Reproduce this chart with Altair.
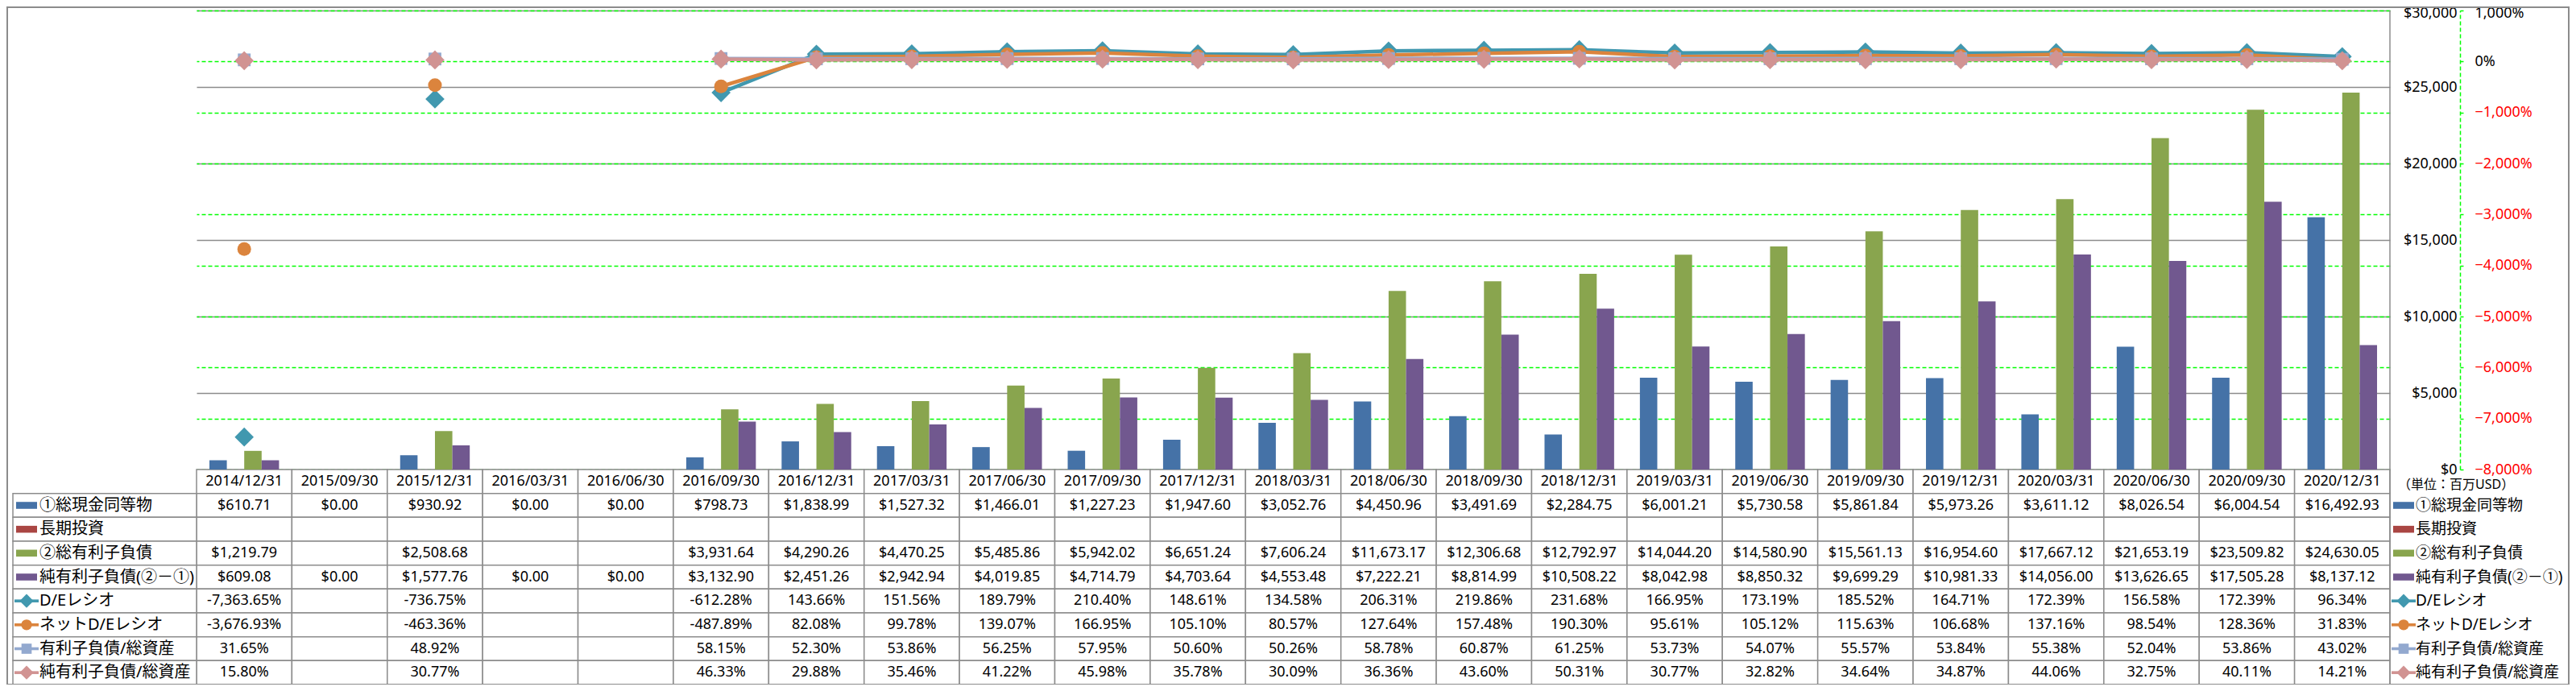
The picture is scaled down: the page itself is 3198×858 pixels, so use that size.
import altair as alt
import pandas as pd

# ---------------- data ----------------
dates = ["2014/12/31", "2015/09/30", "2015/12/31", "2016/03/31", "2016/06/30",
         "2016/09/30", "2016/12/31", "2017/03/31", "2017/06/30", "2017/09/30",
         "2017/12/31", "2018/03/31", "2018/06/30", "2018/09/30", "2018/12/31",
         "2019/03/31", "2019/06/30", "2019/09/30", "2019/12/31", "2020/03/31",
         "2020/06/30", "2020/09/30", "2020/12/31"]

cash = [610.71, 0.00, 930.92, 0.00, 0.00, 798.73, 1838.99, 1527.32, 1466.01, 1227.23,
        1947.60, 3052.76, 4450.96, 3491.69, 2284.75, 6001.21, 5730.58, 5861.84,
        5973.26, 3611.12, 8026.54, 6004.54, 16492.93]
long_inv = [None] * 23
debt = [1219.79, None, 2508.68, None, None, 3931.64, 4290.26, 4470.25, 5485.86, 5942.02,
        6651.24, 7606.24, 11673.17, 12306.68, 12792.97, 14044.20, 14580.90, 15561.13,
        16954.60, 17667.12, 21653.19, 23509.82, 24630.05]
net_debt = [609.08, 0.00, 1577.76, 0.00, 0.00, 3132.90, 2451.26, 2942.94, 4019.85, 4714.79,
            4703.64, 4553.48, 7222.21, 8814.99, 10508.22, 8042.98, 8850.32, 9699.29,
            10981.33, 14056.00, 13626.65, 17505.28, 8137.12]
de_ratio = [-7363.65, None, -736.75, None, None, -612.28, 143.66, 151.56, 189.79, 210.40,
            148.61, 134.58, 206.31, 219.86, 231.68, 166.95, 173.19, 185.52, 164.71,
            172.39, 156.58, 172.39, 96.34]
net_de_ratio = [-3676.93, None, -463.36, None, None, -487.89, 82.08, 99.78, 139.07, 166.95,
                105.10, 80.57, 127.64, 157.48, 190.30, 95.61, 105.12, 115.63, 106.68,
                137.16, 98.54, 128.36, 31.83]
debt_assets = [31.65, None, 48.92, None, None, 58.15, 52.30, 53.86, 56.25, 57.95, 50.60,
               50.26, 58.78, 60.87, 61.25, 53.73, 54.07, 55.57, 53.84, 55.38, 52.04,
               53.86, 43.02]
net_debt_assets = [15.80, None, 30.77, None, None, 46.33, 29.88, 35.46, 41.22, 45.98,
                   35.78, 30.09, 36.36, 43.60, 50.31, 30.77, 32.82, 34.64, 34.87, 44.06,
                   32.75, 40.11, 14.21]

bar_names = ["①総現金同等物", "長期投資", "②総有利子負債", "純有利子負債(②－①)"]
bar_values = [cash, long_inv, debt, net_debt]
bar_colors = ["#4572A7", "#AA4643", "#89A54E", "#71588F"]

line_names = ["D/Eレシオ", "ネットD/Eレシオ", "有利子負債/総資産", "純有利子負債/総資産"]
line_values = [de_ratio, net_de_ratio, debt_assets, net_debt_assets]
line_colors = ["#4198AF", "#DB843D", "#93A9CF", "#D19392"]
line_shapes = ["diamond", "circle", "square", "diamond"]
line_sizes = [560, 290, 250, 560]
key_sizes = [300, 180, 160, 300]

money_ticks = [0, 5000, 10000, 15000, 20000, 25000, 30000]
pct_ticks = [-8000, -7000, -6000, -5000, -4000, -3000, -2000, -1000, 0, 1000]
unit_label = "（単位：百万USD）"

# ---------------- layout constants ----------------
W = 2723
H = 837
PLOT_H = 570
FONT = "Noto Sans, Noto Sans CJK JP"
GRID = "#8C8C8C"
GREEN = "#00FF00"

all_names = bar_names + line_names
all_colors = bar_colors + line_colors
row_keys = ["header"] + all_names

xs = alt.X("date:N", scale=alt.Scale(domain=dates, paddingInner=0, paddingOuter=0), axis=None)
xc = alt.X("date:N", scale=alt.Scale(domain=dates, paddingInner=0, paddingOuter=0),
           axis=None, bandPosition=0.5)
yrow = alt.Y("row:N", scale=alt.Scale(domain=row_keys, range=[PLOT_H, H],
                                      paddingInner=0, paddingOuter=0), axis=None)


def ypct(axis=None):
    return alt.Y("value:Q", scale=alt.Scale(domain=[-8000, 1000], range=[PLOT_H, 0],
                                            nice=False, zero=False), axis=axis)


# ---------------- bars ----------------
bar_rows = []
for name, vals in zip(bar_names, bar_values):
    for d, v in zip(dates, vals):
        if v is not None:
            bar_rows.append({"date": d, "series": name, "value": v})
bar_df = pd.DataFrame(bar_rows)

money_axis = alt.Axis(orient="right", values=money_ticks,
                      labelExpr="'$' + format(datum.value, ',')",
                      grid=True, gridColor=GRID, gridWidth=1.5,
                      domain=False, ticks=False, tickSize=0,
                      labelPadding=83, labelAlign="right",
                      labelOffset={"condition": {"test": "datum.value == 30000", "value": 3},
                                   "value": 0},
                      labelFont=FONT, labelFontSize=18, labelColor="#000000", title=None)

bars = alt.Chart(bar_df).mark_bar().encode(
    x=xs,
    xOffset=alt.XOffset("series:N", scale=alt.Scale(domain=bar_names, paddingInner=0,
                                                    paddingOuter=0.74)),
    y=alt.Y("value:Q", scale=alt.Scale(domain=[0, 30000], range=[PLOT_H, 0], nice=False),
            axis=money_axis),
    color=alt.Color("series:N", scale=alt.Scale(domain=all_names, range=all_colors), legend=None),
)

pct_axis = alt.Axis(orient="right", offset=87, values=pct_ticks,
                    labelExpr="format(datum.value, ',') + '%'",
                    labelColor={"condition": {"test": "datum.value < 0", "value": "#FF0000"},
                                "value": "#000000"},
                    labelOffset={"condition": {"test": "datum.value == 1000", "value": 3},
                                 "value": 0},
                    grid=True, gridColor=GREEN, gridDash=[5, 3], gridWidth=1.5,
                    domain=True, domainColor=GREEN, domainDash=[5, 3], domainWidth=1.5,
                    ticks=True, tickColor=GREEN, tickSize=4, tickWidth=1.5,
                    labelPadding=14, labelAlign="left",
                    labelFont=FONT, labelFontSize=18, title=None)

# ---------------- lines ----------------
line_layers = []
for i, (name, vals) in enumerate(zip(line_names, line_values)):
    rows = []
    seg = 0
    for d, v in zip(dates, vals):
        if v is None:
            seg += 1
            continue
        rows.append({"date": d, "series": name, "value": v, "seg": seg})
    df = pd.DataFrame(rows)
    ln = alt.Chart(df).mark_line(color=line_colors[i], strokeWidth=4.5).encode(
        x=xc, y=ypct(pct_axis if i == 0 else None), detail="seg:N")
    pt = alt.Chart(df).mark_point(shape=line_shapes[i], size=line_sizes[i], filled=True,
                                  opacity=1, color=line_colors[i]).encode(x=xc, y=ypct())
    line_layers += [ln, pt]

# ---------------- data table ----------------
def fmt_money(v):
    return "" if v is None else "$" + f"{v:,.2f}"


def fmt_pct(v):
    return "" if v is None else f"{v:,.2f}%"


cells = []
for d in dates:
    cells.append({"date": d, "row": "header", "text": d})
for name, vals in zip(bar_names, bar_values):
    for d, v in zip(dates, vals):
        cells.append({"date": d, "row": name, "text": fmt_money(v)})
for name, vals in zip(line_names, line_values):
    for d, v in zip(dates, vals):
        cells.append({"date": d, "row": name, "text": fmt_pct(v)})
cell_df = pd.DataFrame(cells)

table_grid = alt.Chart(cell_df).mark_rect(fill="white", stroke=GRID, strokeWidth=1.5).encode(
    x=xs, y=yrow)
table_text = alt.Chart(cell_df).mark_text(font=FONT, fontSize=18, color="#000000",
                                          baseline="middle", align="center").encode(
    x=xc, y=yrow, text="text:N")

name_df = pd.DataFrame({"row": all_names,
                        "kind": ["bar"] * 4 + ["line"] * 4})
header_cells = alt.Chart(name_df).mark_rect(fill="white", stroke=GRID, strokeWidth=1.5).encode(
    x=alt.value(-228), x2=alt.value(0), y=yrow)

BAR_KEY = "M-1,-0.33L1,-0.33L1,0.33L-1,0.33Z"
LINE_KEY = "M-1,-0.12L1,-0.12L1,0.12L-1,0.12Z"


def key_layers(cx, tx, fs):
    out = []
    bdf = name_df[name_df.kind == "bar"]
    ldf = name_df[name_df.kind == "line"]
    out.append(alt.Chart(bdf).mark_point(shape=BAR_KEY, size=676, filled=True, opacity=1).encode(
        x=alt.value(cx), y=yrow,
        color=alt.Color("row:N", scale=alt.Scale(domain=all_names, range=all_colors), legend=None)))
    out.append(alt.Chart(ldf).mark_point(shape=LINE_KEY, size=900, filled=True, opacity=1).encode(
        x=alt.value(cx), y=yrow,
        color=alt.Color("row:N", scale=alt.Scale(domain=all_names, range=all_colors), legend=None)))
    for i, name in enumerate(line_names):
        out.append(alt.Chart(ldf[ldf.row == name]).mark_point(
            shape=line_shapes[i], size=key_sizes[i], filled=True, opacity=1,
            color=line_colors[i]).encode(x=alt.value(cx), y=yrow))
    out.append(alt.Chart(name_df).mark_text(font=FONT, fontSize=fs, color="#000000",
                                            align="left", baseline="middle").encode(
        x=alt.value(tx), y=yrow, text="row:N"))
    return out


left_keys = key_layers(-211, -195, 20)
right_keys = key_layers(W + 17, W + 32, 19)

unit = alt.Chart(pd.DataFrame({"row": ["header"], "text": [unit_label]})).mark_text(
    font=FONT, fontSize=16, color="#000000", align="left", baseline="middle").encode(
    x=alt.value(W + 10), y=yrow, text="text:N", yOffset=alt.value(4))

one = pd.DataFrame({"a": [0]})
right_border = alt.Chart(one).mark_rule(color=GRID, strokeWidth=1.5).encode(
    x=alt.value(W), y=alt.value(0), y2=alt.value(H))
frame = alt.Chart(one).mark_rect(filled=False, stroke="#8C8C8C", strokeWidth=2).encode(
    x=alt.value(-235), x2=alt.value(W + 222), y=alt.value(-4), y2=alt.value(H))

chart = alt.layer(
    table_grid, header_cells, table_text, bars, *line_layers, right_border,
    *left_keys, *right_keys, unit, frame
).resolve_scale(y="independent").properties(
    width=W, height=H,
    autosize=alt.AutoSizeParams(type="none"),
    padding={"left": 236, "top": 5, "right": 223, "bottom": 0},
    background="white",
).configure_view(stroke=None)

chart.save("out.html", embed_options={"renderer": "svg", "actions": False})
